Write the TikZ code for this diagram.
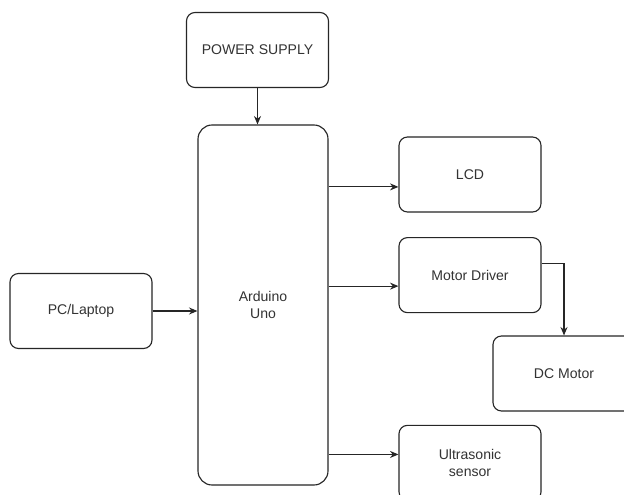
\documentclass[tikz,border=0pt]{standalone}
\usepackage{fontspec}
\setmainfont{Liberation Sans}
\usepackage{tikz}
\usetikzlibrary{arrows.meta,positioning}
\definecolor{bdline}{HTML}{262626}
\definecolor{bdtext}{HTML}{333333}

\begin{document}
\begin{tikzpicture}[
  node distance=0.6cm and 1.2cm,
  block/.style={
    rectangle, draw=bdline, fill=white, rounded corners=6pt,
    line width=0.8pt, minimum width=3.55cm, minimum height=1.875cm,
    align=center, text=bdtext, font=\fontsize{10}{12}\selectfont
  },
  mcu/.style={
    block, rounded corners=10pt,
    minimum width=3.25cm, minimum height=9cm
  },
  arr/.style={-{Stealth[length=6pt,width=5pt]}, line width=0.8pt, color=bdline},
]
  \clip (0,0) rectangle (15.6,12.35);

  % Controller and its inputs
  \node[mcu] (arduino) at (6.575,4.725) {Arduino\\Uno};
  \node[block] (power) at (6.4375,11.1) {POWER SUPPLY};
  \node[block] (pc) at (2.025,4.575) {PC/Laptop};

  % Outputs
  \node[block] (lcd) at (11.75,7.9875) {LCD};
  \node[block, below=0.6125cm of lcd] (driver) {Motor Driver};
  \node[block, below=2.79cm of driver] (ultra) {Ultrasonic\\sensor};
  \node[block] (dcmotor) at (14.1,3.0125) {DC Motor};

  % Arrows
  \draw[arr] (power.south) -- (power.south |- arduino.north);
  \draw[arr] (pc.east) -- (pc.east -| arduino.west);
  \draw[arr] ([yshift=-0.31cm]lcd.west -| arduino.east) -- ([yshift=-0.31cm]lcd.west);
  \draw[arr] ([yshift=-0.275cm]driver.west -| arduino.east) -- ([yshift=-0.275cm]driver.west);
  \draw[arr] ([yshift=0.21cm]ultra.west -| arduino.east) -- ([yshift=0.21cm]ultra.west);
  \draw[arr] ([yshift=0.3cm]driver.east) -| (dcmotor.north);
\end{tikzpicture}
\end{document}
